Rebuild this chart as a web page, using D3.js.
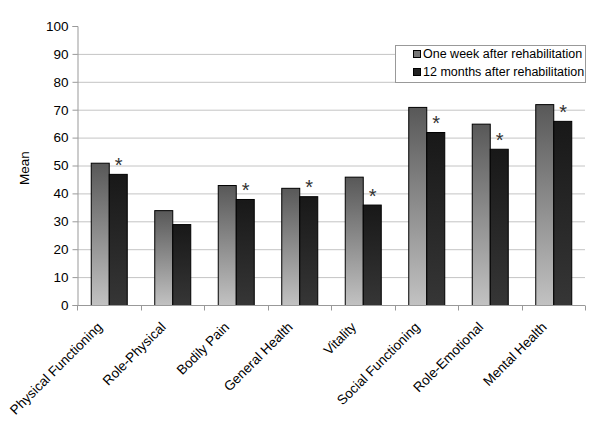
<!DOCTYPE html>
<html><head><meta charset="utf-8">
<script src="https://cdn.jsdelivr.net/npm/d3@7"></script>
<style>body{margin:0;background:#fff;}svg{display:block;font-family:Arial,"Liberation Sans",sans-serif;}</style>
</head><body>
<svg id="c" width="600" height="430"></svg>
<script>
const categories = ["Physical Functioning","Role-Physical","Bodily Pain","General Health","Vitality","Social Functioning","Role-Emotional","Mental Health"];
const seriesNames = ["One week after rehabilitation","12 months after rehabilitation"];
const oneWeek = [51,34,43,42,46,71,65,72];
const twelveMonths = [47,29,38,39,36,62,56,66];
const significant = [true,false,true,true,true,true,true,true];
const yTicks = [0,10,20,30,40,50,60,70,80,90,100];

const svg = d3.select("#c");
const m = {left:77, right:585, top:26, bottom:305};
const x0 = d3.scaleBand().domain(categories).range([m.left,m.right]).paddingInner(0.433).paddingOuter(0.2165);
const x1 = d3.scaleBand().domain([0,1]).range([0,x0.bandwidth()]);
const y = d3.scaleLinear().domain([0,100]).range([m.bottom,m.top]);

const defs = svg.append("defs");
const g1 = defs.append("linearGradient").attr("id","g1").attr("x1",0).attr("y1",0).attr("x2",0).attr("y2",1);
g1.append("stop").attr("offset","0%").attr("stop-color","#585858");
g1.append("stop").attr("offset","100%").attr("stop-color","#c2c2c2");
const g2 = defs.append("linearGradient").attr("id","g2").attr("x1",0).attr("y1",0).attr("x2",0).attr("y2",1);
g2.append("stop").attr("offset","0%").attr("stop-color","#181818");
g2.append("stop").attr("offset","100%").attr("stop-color","#363636");
const fills = ["url(#g1)","url(#g2)"];

// gridlines
svg.append("g").selectAll("line").data(yTicks.filter(t=>t>0&&t<100)).join("line")
  .attr("x1",m.left).attr("x2",m.right).attr("y1",d=>y(d)+0.5).attr("y2",d=>y(d)+0.5)
  .attr("stroke","#c4c4c4").attr("stroke-width",1);

// y axis
const ya = svg.append("g").attr("transform",`translate(${m.left+0.5},0)`)
  .call(d3.axisLeft(y).tickValues(yTicks).tickSize(5).tickPadding(4));
ya.select(".domain").attr("stroke","#999");
ya.selectAll(".tick line").attr("stroke","#999");
ya.selectAll(".tick text").attr("font-size","13.5px").attr("fill","#000").attr("font-family","Arial, Liberation Sans, sans-serif");

// bars
const data = categories.map((c,i)=>({c, v:[oneWeek[i],twelveMonths[i]], s:significant[i]}));
const grp = svg.append("g").selectAll("g").data(data).join("g")
  .attr("transform",d=>`translate(${x0(d.c)},0)`);
grp.selectAll("rect").data(d=>d.v.map((v,k)=>({v,k}))).join("rect")
  .attr("x",d=>x1(d.k)+0.5).attr("width",x1.bandwidth())
  .attr("y",d=>y(d.v)+0.5).attr("height",d=>y(0)-y(d.v))
  .attr("fill",d=>fills[d.k]).attr("stroke","#000").attr("stroke-width",1);

// asterisks
grp.filter(d=>d.s).append("text")
  .attr("x",x1(1)+x1.bandwidth()/2+1).attr("y",d=>y(d.v[1])-2)
  .attr("text-anchor","middle").attr("font-size","20px").attr("fill","#333").text("*");

// x axis
const xa = svg.append("g").attr("transform",`translate(0,${m.bottom+0.5})`);
xa.append("line").attr("x1",m.left).attr("x2",m.right).attr("stroke","#999");
const bounds = d3.range(categories.length+1).map(i=>m.left+i*x0.step());
xa.selectAll("line.t").data(bounds).join("line").attr("class","t")
  .attr("x1",d=>Math.round(d)+0.5).attr("x2",d=>Math.round(d)+0.5).attr("y1",0).attr("y2",5).attr("stroke","#999");
xa.selectAll("text").data(categories).join("text")
  .attr("transform",d=>`translate(${x0(d)+x0.bandwidth()/2-9},${19}) rotate(-45)`)
  .attr("text-anchor","end").attr("dy","0.35em").attr("font-size","13.5px").attr("fill","#000").text(d=>d);

// y label
svg.append("text").attr("transform","translate(29,168) rotate(-90)").attr("text-anchor","middle")
  .attr("font-size","13.5px").text("Mean");

// legend
const lg = svg.append("g");
lg.append("rect").attr("x",395.5).attr("y",45.5).attr("width",190).attr("height",37)
  .attr("fill","#fff").attr("stroke","#999");
seriesNames.forEach((n,i)=>{
  lg.append("rect").attr("x",413.5).attr("y",50.5+i*18).attr("width",7).attr("height",7)
    .attr("fill",i===0?"#777":"#222").attr("stroke","#000");
  lg.append("text").attr("x",423).attr("y",54+i*18).attr("dy","0.35em").attr("font-size","12.5px").text(n);
});
</script>
</body></html>
